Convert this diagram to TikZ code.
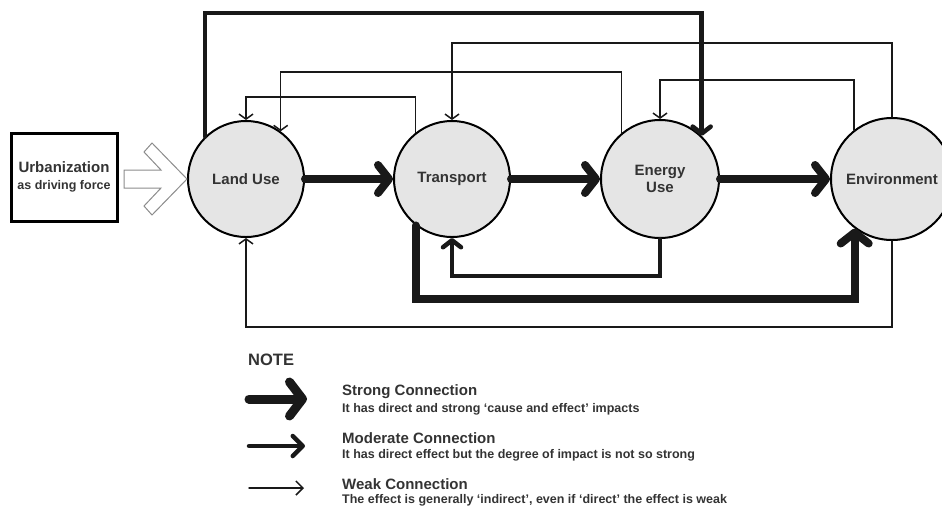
\documentclass[tikz,border=0pt]{standalone}
\usepackage{fontspec}
\setmainfont{Liberation Sans}
\usetikzlibrary{arrows.meta}

\begin{document}
\begin{tikzpicture}[
    x=1pt, y=-1pt,
    line cap=round,
    factor/.style={circle, draw=black, line width=2pt, fill=black!10, inner sep=0pt,
      font=\fontsize{15}{17}\selectfont\bfseries, text=black!80, align=center},
    strong/.style={draw=black!90, line width=8pt, -{Straight Barb[length=11pt, width=28pt, round]}},
    moderate/.style={draw=black!90, line width=4.5pt, -{Straight Barb[length=7pt, width=18pt, round]}},
    weak/.style={draw=black!90, line width=1.5pt, -{Straight Barb[length=5pt, width=14pt]}},
    hollow/.style={draw=black!45, line width=1pt, fill=white, line join=miter},
    title/.style={anchor=west, inner sep=0pt, text=black!80, font=\fontsize{15}{17}\selectfont\bfseries},
    subtext/.style={anchor=west, inner sep=0pt, text=black!80, font=\fontsize{12.5}{14}\selectfont\bfseries},
  ]
  \useasboundingbox (0,0) rectangle (942,507);
  \clip (0,0) rectangle (942,507);

  %% --- Driving force ---
  \node[draw=black, line width=3pt, minimum width=106pt, minimum height=88pt, inner sep=0pt,
        align=center, text=black!80, font=\fontsize{15}{17}\selectfont\bfseries] (UR) at (64,177)
    {Urbanization\\
     {\fontsize{12.5}{15}\selectfont as driving force}};

  %% --- Factors (grey circles) ---
  \node[factor, minimum size=116pt] (LU) at (246,179) {Land Use};
  \node[factor, minimum size=116pt] (TR) at (452,179) {Transport};
  \node[factor, minimum size=118pt] (EU) at (660,179) {Energy\\Use};
  \node[factor, minimum size=122pt] (EN) at (892,179) {Environment};

  % hollow arrow: urbanization -> land use
  \draw[hollow] (LU.west) -- ++(-35,-36) -- ++(-8,9) -- ++(17,18) -- ++(-37,0)
    -- ++(0,18) -- ++(37,0) -- ++(-17,18) -- ++(8,9) -- cycle;

  %% --- Main chain ---
  \draw[strong] (LU) -- (TR);
  \draw[strong] (TR) -- (EU);
  \draw[strong] (EU) -- (EN);

  %% --- Feedback loops above ---
  \draw[weak] (EN.north) -- (EN.north |- 0,43) -| (TR.north);
  \draw[weak] (EU.130) -- (EU.130 |- 0,72) -| (LU.54);
  \draw[weak] (EN.128) -- (EN.128 |- 0,80) -| (EU.north);
  \draw[weak] (TR.128) -- (TR.128 |- 0,97) -| (LU.north);
  \draw[moderate] (LU.134) -- (LU.134 |- 0,13) -| (EU.46);

  %% --- Loops below ---
  \draw[moderate] (EU.south) -- (EU.south |- 0,276) -| (TR.south);
  \draw[strong] (TR.232) -- (TR.232 |- 0,299) -| (EN.233);
  \draw[weak] (EN.south) -- (EN.south |- 0,327) -| (LU.south);

  %% --- Legend ---
  \node[title, font=\fontsize{16.5}{18}\selectfont\bfseries] (note) at (248,360) {NOTE};

  \coordinate (k1) at (249,399);
  \coordinate (k2) at (249,446);
  \coordinate (k3) at (249,488);
  \draw[strong, line width=9pt, -{Straight Barb[length=13pt, width=34pt, round]}] (k1) -- ++(58,0);
  \draw[moderate, -{Straight Barb[length=10pt, width=20pt, round]}] (k2) -- ++(56,0);
  \draw[weak, -{Straight Barb[length=7pt, width=14pt]}] (k3) -- ++(55,0);

  \node[title] (st) at (342,392) {Strong Connection};
  \node[subtext] at (342,409) {It has direct and strong `cause and effect' impacts};
  \node[title] (mo) at (342,438) {Moderate Connection};
  \node[subtext] at (342,455) {It has direct effect but the degree of impact is not so strong};
  \node[title] (wk) at (342,484) {Weak Connection};
  \node[subtext] at (342,500) {The effect is generally `indirect', even if `direct' the effect is weak};
\end{tikzpicture}
\end{document}
